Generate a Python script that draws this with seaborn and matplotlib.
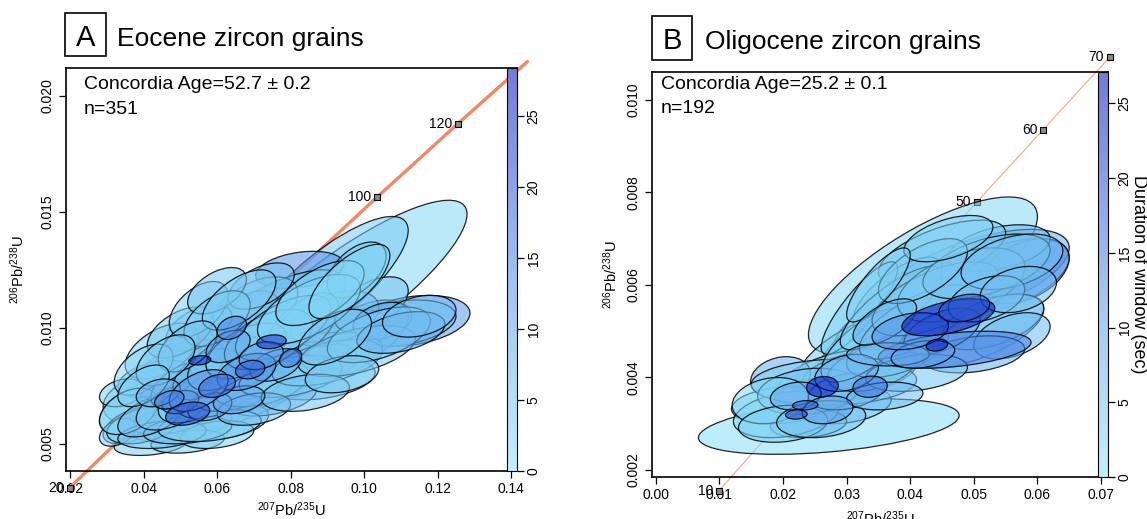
import numpy as np
import matplotlib
matplotlib.use("Agg")
import matplotlib.pyplot as plt
import seaborn as sns
import pandas as pd
from matplotlib.patches import Circle, Rectangle
from matplotlib.transforms import Affine2D
from matplotlib.colors import LinearSegmentedColormap, Normalize, to_rgba
from matplotlib.cm import ScalarMappable

# ---------------- Panel A: Eocene zircon grains ----------------
# error ellipses: centre, half-extent in x and y, correlation, window duration (s)
a_cx = [0.095, 0.090, 0.1128, 0.110, 0.100, 0.0825, 0.075, 0.085, 0.080, 0.070,
        0.060, 0.045, 0.040, 0.037, 0.050, 0.062, 0.058, 0.065, 0.070, 0.050,
        0.092, 0.083, 0.102, 0.078, 0.088, 0.043, 0.034, 0.098, 0.072, 0.055,
        0.105, 0.075, 0.047,
        0.045, 0.050, 0.040, 0.055, 0.060, 0.042, 0.052, 0.060, 0.033,
        0.040, 0.045, 0.052, 0.058, 0.036, 0.042, 0.048, 0.054, 0.060, 0.066,
        0.072, 0.080, 0.090, 0.098, 0.104, 0.050, 0.057, 0.062, 0.068, 0.074,
        0.078, 0.085, 0.060, 0.066, 0.052, 0.046, 0.040, 0.070, 0.084, 0.094,
        0.110, 0.115, 0.092, 0.088, 0.096,
        0.058, 0.066, 0.050, 0.076, 0.044,
        0.068, 0.055, 0.063, 0.072, 0.0553, 0.0748, 0.052, 0.069, 0.060, 0.047,
        0.064, 0.080]
a_cy = [0.0115, 0.0118, 0.0103, 0.0102, 0.0098, 0.0125, 0.0105, 0.0092, 0.0085, 0.0078,
        0.0068, 0.0070, 0.0066, 0.0058, 0.0058, 0.0060, 0.0090, 0.0098, 0.0108, 0.0082,
        0.0104, 0.0100, 0.0110, 0.0080, 0.0078, 0.0078, 0.0072, 0.0125, 0.0118, 0.0100,
        0.0103, 0.0070, 0.0060,
        0.0090, 0.0098, 0.0082, 0.0108, 0.0116, 0.0050, 0.0051, 0.0054, 0.0055,
        0.0058, 0.0054, 0.0056, 0.0058, 0.0064, 0.0062, 0.0066, 0.0070, 0.0072, 0.0074,
        0.0076, 0.0079, 0.0085, 0.0090, 0.0097, 0.0075, 0.0080, 0.0085, 0.0090, 0.0095,
        0.0100, 0.0108, 0.0104, 0.0112, 0.0092, 0.0086, 0.0075, 0.0065, 0.0072, 0.0080,
        0.0098, 0.0105, 0.0096, 0.0115, 0.0120,
        0.0066, 0.0069, 0.0068, 0.0084, 0.0072,
        0.0081, 0.0073, 0.0092, 0.0088, 0.0086, 0.0094, 0.0063, 0.0082, 0.0075, 0.0069,
        0.0100, 0.0087]
a_sx = [0.033, 0.022, 0.016, 0.015, 0.012, 0.012, 0.020, 0.022, 0.025, 0.028,
        0.022, 0.016, 0.012, 0.008, 0.014, 0.012, 0.015, 0.012, 0.012, 0.012,
        0.012, 0.010, 0.010, 0.010, 0.015, 0.010, 0.006, 0.008, 0.009, 0.009,
        0.008, 0.012, 0.010,
        0.010, 0.009, 0.008, 0.008, 0.008, 0.010, 0.010, 0.010, 0.005,
        0.010, 0.012, 0.012, 0.014, 0.008, 0.009, 0.010, 0.010, 0.011, 0.012,
        0.013, 0.014, 0.015, 0.016, 0.014, 0.008, 0.009, 0.010, 0.011, 0.012,
        0.013, 0.014, 0.009, 0.010, 0.008, 0.008, 0.007, 0.010, 0.012, 0.010,
        0.012, 0.010, 0.010, 0.012, 0.011,
        0.006, 0.007, 0.005, 0.007, 0.006,
        0.008, 0.008, 0.006, 0.006, 0.003, 0.004, 0.006, 0.004, 0.005, 0.004,
        0.004, 0.003]
a_sy = [0.0040, 0.0030, 0.0011, 0.0010, 0.0014, 0.0008, 0.0020, 0.0016, 0.0013, 0.0016,
        0.0014, 0.0013, 0.0012, 0.0008, 0.0007, 0.0008, 0.0014, 0.0018, 0.0014, 0.0013,
        0.0012, 0.0015, 0.0012, 0.0009, 0.0009, 0.0008, 0.0006, 0.0012, 0.0010, 0.0010,
        0.0008, 0.0008, 0.0006,
        0.0012, 0.0011, 0.0011, 0.0012, 0.0010, 0.0005, 0.0005, 0.0006, 0.0006,
        0.0008, 0.0006, 0.0006, 0.0007, 0.0010, 0.0009, 0.0010, 0.0011, 0.0011, 0.0010,
        0.0010, 0.0009, 0.0010, 0.0011, 0.0012, 0.0010, 0.0011, 0.0012, 0.0012, 0.0013,
        0.0014, 0.0015, 0.0012, 0.0013, 0.0011, 0.0011, 0.0009, 0.0007, 0.0008, 0.0008,
        0.0009, 0.0009, 0.0012, 0.0014, 0.0016,
        0.0006, 0.0006, 0.0005, 0.0007, 0.0006,
        0.0008, 0.0009, 0.0007, 0.0006, 0.0002, 0.0003, 0.0005, 0.0004, 0.0005, 0.0004,
        0.0005, 0.0004]
a_rho = [0.85, 0.80, 0.30, 0.30, 0.50, 0.30, 0.70, 0.60, 0.50, 0.60,
         0.60, 0.30, 0.50, 0.50, 0.40, 0.30, 0.50, 0.60, 0.50, 0.50,
         0.40, 0.60, 0.50, 0.40, 0.30, 0.40, 0.30, 0.50, 0.50, 0.50,
         0.30, 0.40, 0.40,
         0.50, 0.50, 0.50, 0.50, 0.50, 0.30, 0.30, 0.30, 0.40,
         0.40, 0.30, 0.30, 0.30, 0.40, 0.50, 0.50, 0.50, 0.50, 0.50,
         0.40, 0.40, 0.50, 0.50, 0.50, 0.50, 0.50, 0.50, 0.50, 0.50,
         0.60, 0.60, 0.50, 0.60, 0.50, 0.50, 0.50, 0.30, 0.30, 0.30,
         0.40, 0.30, 0.50, 0.60, 0.70,
         0.30, 0.30, 0.30, 0.40, 0.30,
         0.40, 0.50, 0.40, 0.30, 0.20, 0.20, 0.30, 0.20, 0.30, 0.30,
         0.30, 0.30]
a_dur = [2, 4, 12, 5, 6, 13, 3, 3, 2, 3,
         4, 3, 4, 3, 4, 3, 3, 5, 4, 5,
         7, 6, 5, 8, 3, 5, 3, 4, 6, 4,
         9, 7, 6,
         3, 4, 2, 3, 5, 3, 4, 3, 3,
         3, 4, 5, 3, 2, 6, 4, 3, 5, 4,
         3, 2, 3, 4, 3, 7, 6, 4, 3, 4,
         3, 2, 3, 4, 5, 4, 3, 6, 5, 4,
         8, 6, 5, 3, 2,
         9, 10, 12, 9, 8,
         14, 12, 10, 11, 26, 24, 22, 20, 18, 16,
         15, 16]

# concordia curve (ages in Ma)
a_cc_age = [20, 60, 100, 120, 137]
a_cc_x = [0.01989, 0.06087, 0.10350, 0.12545, 0.14445]
a_cc_y = [0.00311, 0.00935, 0.01563, 0.01879, 0.02148]
a_marks = [20, 100, 120]
a_xticks = [0.02, 0.04, 0.06, 0.08, 0.10, 0.12, 0.14]
a_yticks = [0.005, 0.010, 0.015, 0.020]

# ---------------- Panel B: Oligocene zircon grains ----------------
b_cx = [0.0272, 0.042, 0.050, 0.055, 0.058, 0.050, 0.040, 0.035, 0.030, 0.028,
        0.025, 0.032, 0.043, 0.054, 0.045, 0.038, 0.030, 0.024, 0.032, 0.0196,
        0.0197, 0.0205,
        0.028, 0.024, 0.018, 0.020, 0.026, 0.030, 0.034, 0.038, 0.033, 0.037,
        0.041, 0.044, 0.048, 0.052, 0.056, 0.053, 0.056, 0.050, 0.041, 0.036,
        0.030, 0.042, 0.046, 0.035, 0.045,
        0.047, 0.0365, 0.052, 0.042, 0.036, 0.022, 0.027, 0.040,
        0.057, 0.046, 0.0485, 0.0442, 0.0337, 0.0262, 0.0235, 0.0221]
b_cy = [0.00294, 0.0062, 0.0062, 0.0062, 0.0063, 0.0050, 0.0055, 0.0050, 0.0045, 0.0040,
        0.0036, 0.0041, 0.0059, 0.0068, 0.0067, 0.0058, 0.0034, 0.0030, 0.0055, 0.0040,
        0.0034, 0.0032,
        0.0039, 0.0037, 0.0035, 0.0030, 0.0031, 0.0037, 0.0042, 0.0046, 0.0047, 0.0055,
        0.0052, 0.0057, 0.0060, 0.0064, 0.0065, 0.0052, 0.0049, 0.0045, 0.0041, 0.0036,
        0.0041, 0.0063, 0.0070, 0.0060, 0.0050,
        0.0046, 0.0045, 0.0057, 0.0045, 0.0052, 0.0036, 0.0033, 0.0050,
        0.0059, 0.0053, 0.0055, 0.0047, 0.0038, 0.0038, 0.0034, 0.0032]
b_sx = [0.0205, 0.018, 0.015, 0.010, 0.007, 0.011, 0.012, 0.010, 0.008, 0.009,
        0.007, 0.009, 0.008, 0.008, 0.010, 0.007, 0.007, 0.006, 0.006, 0.0047,
        0.0078, 0.0083,
        0.013, 0.008, 0.006, 0.007, 0.007, 0.006, 0.007, 0.008, 0.007, 0.008,
        0.009, 0.010, 0.010, 0.010, 0.008, 0.008, 0.006, 0.008, 0.008, 0.006,
        0.005, 0.007, 0.007, 0.005, 0.006,
        0.012, 0.0065, 0.006, 0.005, 0.005, 0.004, 0.004, 0.006,
        0.006, 0.0073, 0.004, 0.0017, 0.0027, 0.0025, 0.002, 0.0017]
b_sy = [0.0006, 0.0017, 0.0010, 0.0008, 0.0007, 0.0008, 0.0010, 0.0011, 0.0008, 0.0006,
        0.0004, 0.0005, 0.0006, 0.0005, 0.0007, 0.0008, 0.0004, 0.0003, 0.0010, 0.00045,
        0.0004, 0.0005,
        0.0005, 0.0005, 0.0005, 0.0004, 0.0004, 0.0004, 0.0005, 0.0006, 0.0008, 0.0009,
        0.0008, 0.0008, 0.0008, 0.0007, 0.0006, 0.0006, 0.0005, 0.0004, 0.0004, 0.0003,
        0.0004, 0.0007, 0.0005, 0.0008, 0.0005,
        0.0004, 0.00025, 0.0005, 0.0003, 0.0005, 0.0003, 0.0003, 0.0004,
        0.0005, 0.0004, 0.0003, 0.00013, 0.00023, 0.00022, 0.0001, 0.0001]
b_rho = [0.4, 0.75, 0.6, 0.5, 0.4, 0.6, 0.8, 0.85, 0.7, 0.5,
         0.3, 0.4, 0.6, 0.4, 0.6, 0.7, 0.3, 0.2, 0.85, 0.2,
         0.2, 0.3,
         0.1, 0.2, 0.2, 0.2, 0.2, 0.3, 0.4, 0.5, 0.7, 0.8,
         0.7, 0.6, 0.5, 0.5, 0.4, 0.5, 0.4, 0.3, 0.3, 0.2,
         0.3, 0.6, 0.5, 0.8, 0.5,
         0.4, 0.0, 0.4, 0.3, 0.6, 0.2, 0.2, 0.3,
         0.3, 0.5, 0.3, 0.2, 0.1, 0.1, 0.1, 0.1]
b_dur = [1, 2, 8, 10, 13, 4, 3, 2, 4, 3,
         5, 6, 6, 7, 4, 5, 4, 6, 3, 8,
         3, 2,
         3, 4, 2, 3, 5, 6, 4, 5, 3, 2,
         4, 3, 4, 5, 5, 5, 6, 8, 5, 6,
         8, 4, 3, 3, 10,
         15, 7, 5, 10, 7, 9, 10, 12,
         6, 27, 20, 28, 16, 28, 18, 22]

b_cc_age = [10, 30, 50, 60, 70]
b_cc_x = [0.00990, 0.02999, 0.05048, 0.06087, 0.07137]
b_cc_y = [0.00155, 0.00466, 0.00779, 0.00935, 0.01092]
b_marks = [10, 50, 60, 70]
b_xticks = [0.00, 0.01, 0.02, 0.03, 0.04, 0.05, 0.06, 0.07]
b_yticks = [0.002, 0.004, 0.006, 0.008, 0.010]

cbar_ticks = [0, 5, 10, 15, 20, 25]

sns.set_theme(style="white")
plt.rcParams["font.family"] = ["Liberation Sans", "DejaVu Sans"]
plt.rcParams["mathtext.default"] = "regular"
plt.rcParams["text.color"] = "black"
plt.rcParams["axes.labelcolor"] = "black"

FILL_ALPHA = 0.55
cmap = LinearSegmentedColormap.from_list("dur", ["#8be3f8", "#4f8be8", "#0010b8"])
# same colours as seen on white paper for the colour bar
bar_cols = [tuple(FILL_ALPHA * c + (1 - FILL_ALPHA) for c in cmap(v)[:3])
            for v in np.linspace(0, 1, 64)]
cmap_bar = LinearSegmentedColormap.from_list("dur_bar", bar_cols)

fig = plt.figure(figsize=(11.47, 5.19), dpi=100)
W, H = 1147, 519
axA = fig.add_axes([66 / W, 1 - 471 / H, 451 / W, 403 / H])
axB = fig.add_axes([652 / W, 1 - 477 / H, 456 / W, 405 / H])


def draw_panel(ax, cx, cy, sx, sy, rho, dur, cc_age, cc_x, cc_y, marks,
               vmax, lw_cc, cc_col, xlim, ylim, xticks, yticks,
               age_txt, n_txt, txt_x, txt_y):
    # concordia curve underneath the ellipses
    cc = pd.DataFrame({"age": cc_age, "x": cc_x, "y": cc_y})
    sns.lineplot(data=cc, x="x", y="y", ax=ax, color=cc_col, lw=lw_cc,
                 sort=False, clip_on=False, zorder=1)
    mk = cc[cc["age"].isin(marks)]
    ax.scatter(mk["x"], mk["y"], marker="s", s=14, facecolor="#8a8a8a",
               edgecolor="black", linewidth=0.8, clip_on=False, zorder=1.1)
    for _, r in mk.iterrows():
        ax.annotate(str(int(r["age"])), (r["x"], r["y"]), xytext=(-4, 0),
                    textcoords="offset points", ha="right", va="center",
                    fontsize=10, annotation_clip=False, zorder=1.2)

    norm = Normalize(0, vmax)
    for x, y, a, b, r, d in zip(cx, cy, sx, sy, rho, dur):
        m = np.array([[a, 0, x], [b * r, b * np.sqrt(1 - r * r), y], [0, 0, 1]])
        fc = to_rgba(cmap(norm(d)), FILL_ALPHA)
        ax.add_patch(Circle((0, 0), 1, transform=Affine2D(m) + ax.transData,
                            facecolor=fc, edgecolor=(0, 0, 0, 0.85),
                            linewidth=0.9, zorder=2))

    ax.set_xlim(*xlim)
    ax.set_ylim(*ylim)
    ax.set_xticks(xticks)
    ax.set_yticks(yticks)
    ax.set_xticklabels(["%.2f" % v for v in xticks])
    ax.set_yticklabels(["%.3f" % v for v in yticks], rotation=90, va="center")
    ax.tick_params(direction="out", length=5, width=0.9, labelsize=10,
                   colors="black", bottom=True, left=True, pad=3)
    for s in ax.spines.values():
        s.set_color("black")
        s.set_linewidth(1.2)
    ax.set_xlabel("$^{207}$Pb/$^{235}$U", fontsize=10.5)
    ax.set_ylabel("$^{206}$Pb/$^{238}$U", fontsize=10.5)

    ax.text(txt_x, txt_y[0], age_txt, transform=ax.transAxes, fontsize=14,
            va="center", ha="left", zorder=5)
    ax.text(txt_x, txt_y[1], n_txt, transform=ax.transAxes, fontsize=14,
            va="center", ha="left", zorder=5)

    # colour bar sits inside the right edge of the plot box
    cax = ax.inset_axes([1 - 10 / 451, 0, 10 / 451, 1])
    sm = ScalarMappable(norm=Normalize(0, vmax), cmap=cmap_bar)
    cb = fig.colorbar(sm, cax=cax)
    cb.set_ticks(cbar_ticks)
    cb.outline.set_linewidth(0.8)
    cb.outline.set_edgecolor("black")
    cax.tick_params(direction="out", length=5, width=0.9, labelsize=10,
                    colors="black", right=True, pad=2)
    for lbl in cax.get_yticklabels():
        lbl.set_rotation(90)
        lbl.set_va("center")
    return cb


draw_panel(axA, a_cx, a_cy, a_sx, a_sy, a_rho, a_dur, a_cc_age, a_cc_x, a_cc_y,
           a_marks, 28.4, 2.4, "#f2886a", (0.0189, 0.1416), (0.00383, 0.0212),
           a_xticks, a_yticks,
           "Concordia Age=52.7 ± 0.2", "n=351", 0.04, (0.958, 0.896))
cbB = draw_panel(axB, b_cx, b_cy, b_sx, b_sy, b_rho, b_dur, b_cc_age, b_cc_x,
                 b_cc_y, b_marks, 27.1, 0.8, "#f6a58a", (-0.0006, 0.0711),
                 (0.00185, 0.0106), b_xticks, b_yticks,
                 "Concordia Age=25.2 ± 0.1", "n=192", 0.02, (0.970, 0.911))
cbB.set_label("Duration of window (sec)", rotation=270, va="center",
              ha="center", fontsize=13)
cbB.ax.yaxis.set_label_coords(4.05, 0.5)

axA.xaxis.set_label_coords(0.5, -0.072)
axB.xaxis.set_label_coords(0.5, -0.081)
axA.yaxis.set_label_coords(-0.086, 0.5)
axB.yaxis.set_label_coords(-0.07, 0.5)

# panel headings with boxed letters
for (bx, by, bw, bh), letter, title, tx, base in [
        ((65, 13, 41, 43), "A", "Eocene zircon grains", 117, 46),
        ((652, 16, 40, 44), "B", "Oligocene zircon grains", 705, 49)]:
    fig.patches.append(Rectangle((bx / W, 1 - (by + bh) / H), bw / W, bh / H,
                                 transform=fig.transFigure, fill=False,
                                 edgecolor="black", linewidth=1.2))
    fig.text((bx + bw / 2) / W, 1 - base / H, letter, fontsize=21,
             ha="center", va="baseline")
    fig.text(tx / W, 1 - base / H, title, fontsize=19,
             ha="left", va="baseline")

plt.savefig("out.png", dpi=100)
